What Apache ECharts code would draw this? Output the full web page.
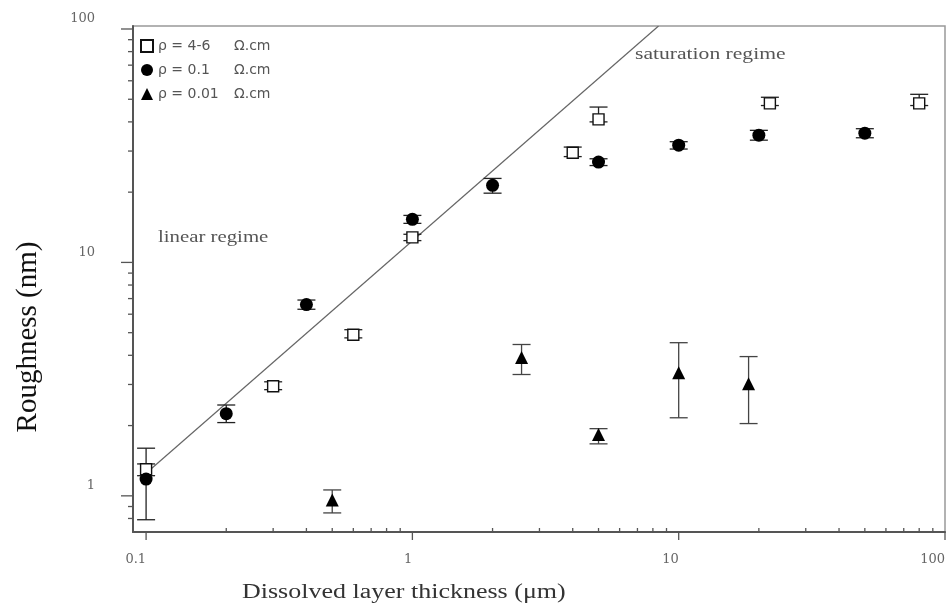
<!DOCTYPE html>
<html>
<head>
<meta charset="utf-8">
<script src="https://cdn.jsdelivr.net/npm/echarts@6/dist/echarts.min.js"></script>
<style>
  html, body { margin: 0; padding: 0; background: #fff; }
  #chart { width: 949px; height: 605px; }
</style>
</head>
<body>
<div id="chart"></div>
<script>
// ρ = 4-6 Ω.cm (open squares)
var sqX = [0.1, 0.3, 0.6, 1.0, 4.0, 5.0, 22, 80];
var sqY = [1.3, 2.95, 4.9, 12.8, 29.5, 41, 48, 48];
var sqLo = [1.22, 2.85, 4.75, 12.4, 28.4, 40, 47, 47];
var sqHi = [1.37, 3.08, 5.15, 13.2, 31.2, 46.3, 51, 52.5];

// ρ = 0.1 Ω.cm (filled circles)
var ciX = [0.1, 0.2, 0.4, 1, 2, 5, 10, 20, 50];
var ciY = [1.18, 2.25, 6.6, 15.3, 21.4, 26.9, 31.8, 35.1, 35.8];
var ciLo = [0.79, 2.06, 6.3, 14.7, 19.8, 26.0, 30.6, 33.4, 34.2];
var ciHi = [1.6, 2.45, 6.9, 15.9, 22.9, 27.8, 32.9, 36.8, 37.4];

// ρ = 0.01 Ω.cm (filled triangles)
var trX = [0.5, 2.57, 5.0, 10, 18.3];
var trY = [0.96, 3.91, 1.83, 3.37, 3.02];
var trLo = [0.845, 3.31, 1.67, 2.16, 2.04];
var trHi = [1.06, 4.45, 1.94, 4.53, 3.95];

// linear regime line
var fitX = [0.1, 8.4];
var fitY = [1.25, 103];

// axis ticks
var xMajor = [0.1, 1, 10, 100];
var xMinor = [0.2, 0.3, 0.4, 0.5, 0.6, 0.7, 0.8, 0.9, 2, 3, 4, 5, 6, 7, 8, 9, 20, 30, 40, 50, 60, 70, 80, 90];
var yMajor = [1, 10, 100];
var yMinor = [0.8, 0.9, 2, 3, 4, 5, 6, 7, 8, 9, 20, 30, 40, 50, 60, 70, 80, 90];

var legendNames = ['ρ = 4-6', 'ρ = 0.1', 'ρ = 0.01'];

var chart = echarts.init(document.getElementById('chart'));

function zip(xs, ys) {
  return xs.map(function (v, i) { return [v, ys[i]]; });
}
function zipErr(xs, lo, hi) {
  return xs.map(function (v, i) { return [v, lo[i], hi[i]]; });
}
function isPow10(v) {
  var l = Math.log10(v);
  return Math.abs(l - Math.round(l)) < 1e-6;
}
function tickLabel(v) {
  return isPow10(v) ? String(+v.toPrecision(3)) : '';
}

function errorBar(color) {
  return function (params, api) {
    var lo = api.coord([api.value(0), api.value(1)]);
    var hi = api.coord([api.value(0), api.value(2)]);
    var w = 9;
    var style = { stroke: color, lineWidth: 1.3 };
    return {
      type: 'group',
      children: [
        { type: 'line', shape: { x1: lo[0], y1: lo[1], x2: hi[0], y2: hi[1] }, style: style },
        { type: 'line', shape: { x1: lo[0] - w, y1: lo[1], x2: lo[0] + w, y2: lo[1] }, style: style },
        { type: 'line', shape: { x1: hi[0] - w, y1: hi[1], x2: hi[0] + w, y2: hi[1] }, style: style }
      ]
    };
  };
}

function xTicks(params, api) {
  var cs = params.coordSys;
  var x = api.coord([api.value(0), 1])[0];
  var bottom = cs.y + cs.height;
  var major = api.value(2) === 1;
  return {
    type: 'line',
    shape: major ? { x1: x, y1: bottom, x2: x, y2: bottom + 8 } : { x1: x, y1: bottom - 4, x2: x, y2: bottom + 1 },
    style: { stroke: '#555', lineWidth: 1.3 }
  };
}

function yTicks(params, api) {
  var cs = params.coordSys;
  var y = api.coord([1, api.value(1)])[1];
  var left = cs.x;
  var len = api.value(2) === 1 ? 12 : 5;
  return {
    type: 'line',
    shape: { x1: left - len, y1: y, x2: left, y2: y },
    style: { stroke: '#555', lineWidth: 1.3 }
  };
}

var option = {
  backgroundColor: '#fff',
  animation: false,
  grid: {
    left: 133,
    top: 26,
    right: 4,
    bottom: 73,
    show: true,
    borderColor: '#999',
    borderWidth: 1.5
  },
  legend: {
    data: legendNames,
    orient: 'vertical',
    left: 135,
    top: 34,
    itemWidth: 12,
    itemHeight: 12,
    itemGap: 10,
    formatter: function (name) {
      return '{a|' + name + '}{b|Ω.cm}';
    },
    textStyle: {
      rich: {
        a: { width: 76, fontSize: 14, color: '#555', fontFamily: 'DejaVu Sans' },
        b: { fontSize: 14, color: '#555', fontFamily: 'DejaVu Sans' }
      }
    }
  },
  xAxis: {
    type: 'log',
    logBase: 10,
    min: 0.0893,
    max: 100,
    axisLine: { lineStyle: { color: '#555', width: 2 } },
    axisTick: { show: false },
    splitLine: { show: false },
    axisLabel: {
      margin: 21,
      align: 'right',
      fontFamily: 'DejaVu Serif',
      fontSize: 13,
      color: '#666',
      showMinLabel: true,
      showMaxLabel: true,
      formatter: tickLabel
    }
  },
  yAxis: {
    type: 'log',
    logBase: 10,
    min: 0.7,
    max: 103,
    axisLine: { lineStyle: { color: '#555', width: 2 } },
    axisTick: { show: false },
    splitLine: { show: false },
    axisLabel: {
      margin: 38,
      verticalAlign: 'bottom',
      lineHeight: 20,
      fontFamily: 'DejaVu Serif',
      fontSize: 13,
      color: '#666',
      formatter: tickLabel
    }
  },
  graphic: [
    {
      type: 'text', x: 158, y: 238, scaleX: 1.3,
      style: { text: 'linear regime', font: '16px "Liberation Serif"', fill: '#555', verticalAlign: 'middle' }
    },
    {
      type: 'text', x: 635, y: 55, scaleX: 1.35,
      style: { text: 'saturation regime', font: '16px "Liberation Serif"', fill: '#555', verticalAlign: 'middle' }
    },
    {
      type: 'text', x: 242, y: 593, scaleX: 1.3,
      style: { text: 'Dissolved layer thickness (μm)', font: '20px "Liberation Serif"', fill: '#333', verticalAlign: 'middle' }
    },
    {
      type: 'text', x: 28, y: 337, rotation: Math.PI / 2,
      style: {
        text: 'Roughness (nm)', font: '29px "Liberation Serif"', fill: '#111',
        align: 'center', verticalAlign: 'middle'
      }
    }
  ],
  series: [
    {
      type: 'line',
      name: 'fit',
      data: zip(fitX, fitY),
      showSymbol: false,
      lineStyle: { color: '#666', width: 1.2 },
      z: 1
    },
    {
      type: 'custom', name: 'err4', renderItem: errorBar('#222'),
      data: zipErr(sqX, sqLo, sqHi), encode: { x: 0, y: [1, 2] }, z: 2
    },
    {
      type: 'custom', name: 'err01', renderItem: errorBar('#222'),
      data: zipErr(ciX, ciLo, ciHi), encode: { x: 0, y: [1, 2] }, z: 2
    },
    {
      type: 'custom', name: 'err001', renderItem: errorBar('#444'),
      data: zipErr(trX, trLo, trHi), encode: { x: 0, y: [1, 2] }, z: 2
    },
    {
      type: 'scatter',
      name: legendNames[0],
      data: zip(sqX, sqY),
      symbol: 'rect',
      symbolSize: 11,
      itemStyle: { color: '#fff', borderColor: '#111', borderWidth: 1.4, opacity: 1 },
      z: 3
    },
    {
      type: 'scatter',
      name: legendNames[1],
      data: zip(ciX, ciY),
      symbol: 'circle',
      symbolSize: 13,
      itemStyle: { color: '#000', opacity: 1 },
      z: 4
    },
    {
      type: 'scatter',
      name: legendNames[2],
      data: zip(trX, trY),
      symbol: 'triangle',
      symbolSize: 13,
      itemStyle: { color: '#000', opacity: 1 },
      z: 4
    },
    {
      type: 'custom', name: 'xticks', renderItem: xTicks, clip: false, silent: true,
      data: xMajor.map(function (v) { return [v, 1, 1]; })
        .concat(xMinor.map(function (v) { return [v, 1, 0]; })),
      encode: { x: 0, y: 1 }, z: 5
    },
    {
      type: 'custom', name: 'yticks', renderItem: yTicks, clip: false, silent: true,
      data: yMajor.map(function (v) { return [1, v, 1]; })
        .concat(yMinor.map(function (v) { return [1, v, 0]; })),
      encode: { x: 0, y: 1 }, z: 5
    }
  ]
};

chart.setOption(option);
</script>
</body>
</html>
